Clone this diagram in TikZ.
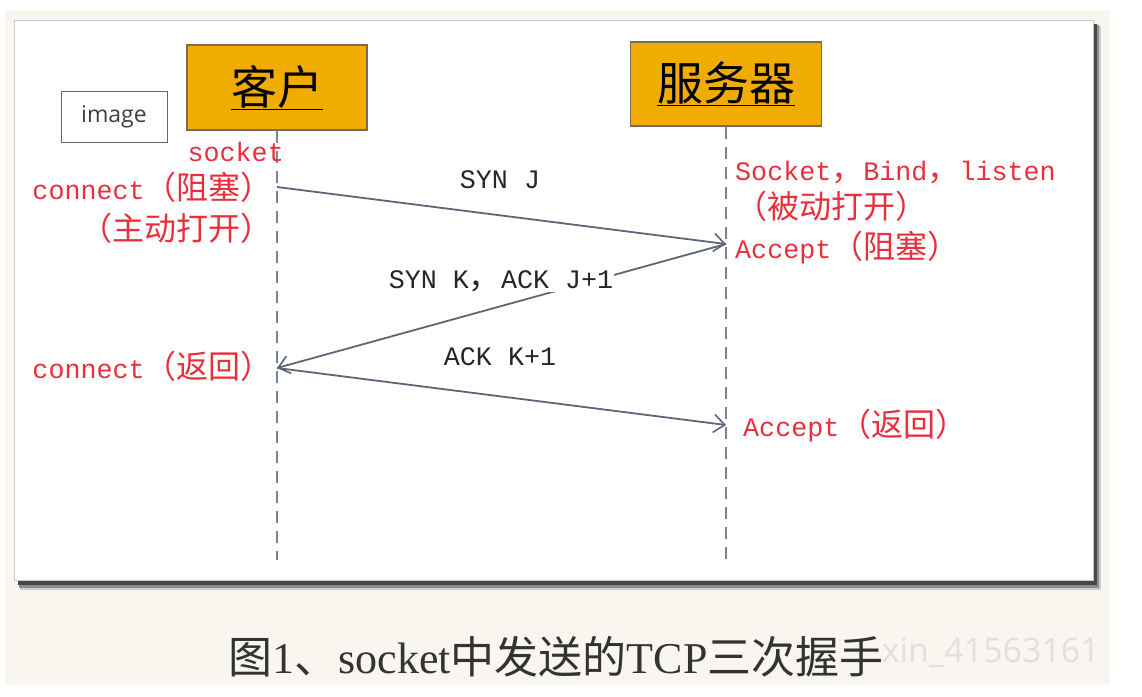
\documentclass[tikz,border=0pt]{standalone}
\usepackage{fontspec}
\usetikzlibrary{arrows.meta}
\setmainfont{Liberation Serif}
\newfontfamily\lmono{Liberation Mono}
\newfontfamily\cjk[Scale=1.2]{Noto Sans CJK SC}
\newfontfamily\cjkcap{Noto Sans CJK SC}
\newfontfamily\opensans{Open Sans}
\newcommand\zh[1]{{\cjk #1}}
\definecolor{cream}{HTML}{F9F6EF}
\definecolor{panelline}{HTML}{C8C8C8}
\definecolor{boxfill}{HTML}{F0AC00}
\definecolor{boxline}{HTML}{7A6A55}
\definecolor{lifecol}{HTML}{7B8496}
\definecolor{msgcol}{HTML}{5D6678}
\definecolor{redtxt}{HTML}{E8303C}
\tikzset{
  actorbox/.style={draw=boxline, line width=1.5pt, fill=boxfill, inner sep=0pt,
    font=\fontsize{46}{50}\selectfont\cjkcap},
  lifeline/.style={draw=lifecol, line width=1.6pt, dash pattern=on 12pt off 8pt},
  msg/.style={draw=msgcol, line width=1.8pt, -{Straight Barb[length=11pt,width=18pt,line width=1.6pt]}},
  redlbl/.style={text=redtxt, inner sep=0pt, font=\fontsize{26.7}{30}\selectfont\lmono},
  msglbl/.style={text=black!85, inner sep=1pt, font=\fontsize{26.7}{30}\selectfont\lmono},
}
\begin{document}
\begin{tikzpicture}[x=1pt,y=-1pt]
\useasboundingbox (0,0) rectangle (1142,696);
\fill[white] (0,0) rectangle (1142,696);
\fill[cream] (5,10) rectangle (1110,685);
% panel with shadow
\fill[black!20] (20,26) rectangle (1101,590);
\fill[black!45] (19,25) rectangle (1099,587.5);
\fill[black!72] (18,24) rectangle (1097,585);
\draw[panelline, line width=1pt, fill=white] (14,20) rectangle (1093,580);

% image placeholder
\node[draw=black!60, line width=1pt, minimum width=106pt, minimum height=51pt, inner sep=0pt,
  text=black!75, font=\fontsize{23}{26}\selectfont\opensans] (img) at (114,116.5) {image};

% actors
\node[actorbox, minimum width=180pt, minimum height=85pt] (client) at (277,87.5) {\underline{客户}};
\node[actorbox, minimum width=191pt, minimum height=84pt] (server) at (726,84) {\underline{服务器}};

% lifelines
\coordinate (clEnd) at (277,560);
\coordinate (svEnd) at (726,560);
\draw[lifeline] (client.south) -- (clEnd);
\draw[lifeline] (server.south) -- (svEnd);

% message points
\coordinate (c1) at (277,187);
\coordinate (s1) at (726,244);
\coordinate (c2) at (277,368);
\coordinate (s3) at (726,425);

\draw[msg] (c1) -- (s1);
\draw[msg] (s1) -- (c2);
\draw[msg] (c2) -- (s3);

\node[msglbl, anchor=base] (m1) at (500,188) {SYN J};
\node[msglbl, fill=white, anchor=base] (m2) at (501,288) {SYN K\zh{，}ACK J+1};
\node[msglbl, anchor=base] (m3) at (500,365) {ACK K+1};

% client side labels
\node[redlbl, anchor=base east] (l1) at (284,161) {socket};
\node[redlbl, anchor=base east] (l2) at (273,199) {connect\zh{（阻塞）}};
\node[redlbl, anchor=base east] (l3) at (273,240) {\zh{（主动打开）}};
\node[redlbl, anchor=base east] (l4) at (273,378) {connect\zh{（返回）}};

% server side labels
\node[redlbl, anchor=base west] (r1) at (735,180) {Socket\zh{，}Bind\zh{，}listen};
\node[redlbl, anchor=base west] (r2) at (735,218) {\zh{（被动打开）}};
\node[redlbl, anchor=base west] (r3) at (735,258) {Accept\zh{（阻塞）}};
\node[redlbl, anchor=base west] (r4) at (743,436) {Accept\zh{（返回）}};

% watermark (visible part)
\node[text=black!12, inner sep=0pt, anchor=base east, font=\fontsize{34}{36}\selectfont\opensans] (wm) at (1100,662) {xin\_41563161};

% caption
\node[text=black!80, inner sep=0pt, anchor=base, font=\fontsize{44}{48}\selectfont] (cap) at (556,673)
  {{\cjkcap 图}1{\cjkcap 、}socket{\cjkcap 中发送的}TCP{\cjkcap 三次握手}};
\end{tikzpicture}
\end{document}
